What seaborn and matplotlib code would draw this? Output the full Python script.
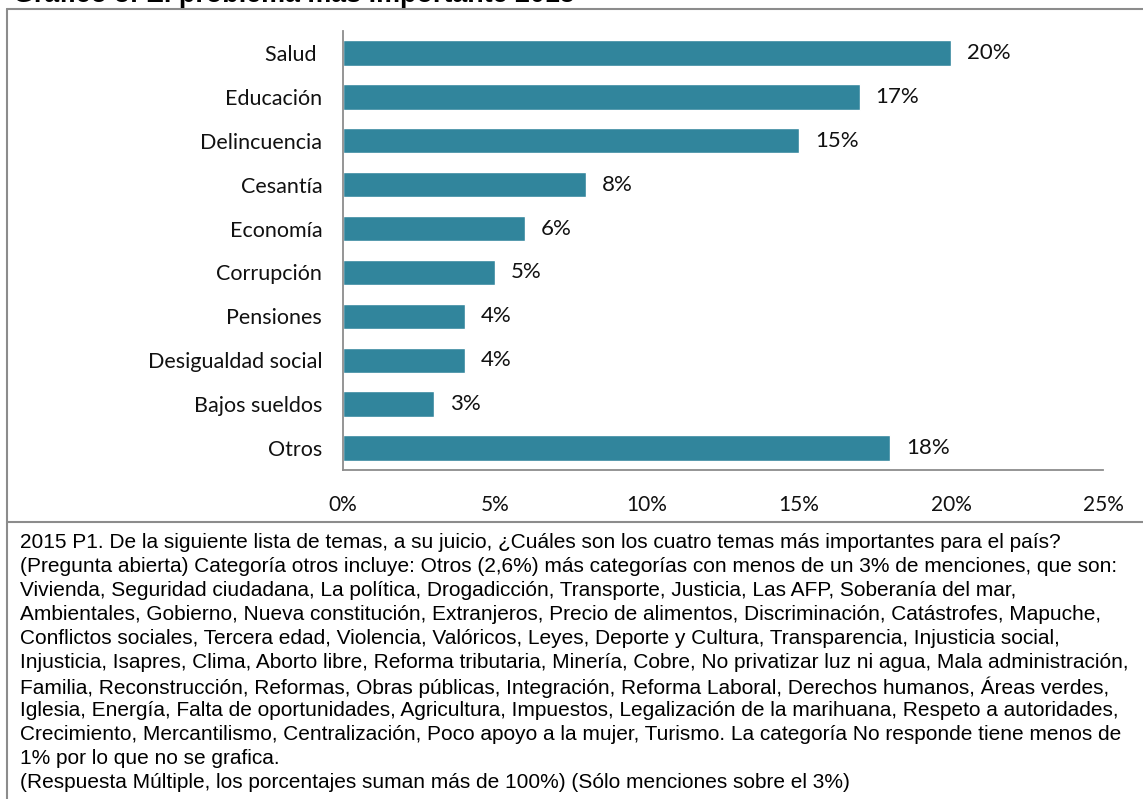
import matplotlib
matplotlib.use("Agg")
import matplotlib.pyplot as plt
from matplotlib.lines import Line2D
import seaborn as sns
import pandas as pd

categories = ["Salud ", "Educación", "Delincuencia", "Cesantía", "Economía",
              "Corrupción", "Pensiones", "Desigualdad social", "Bajos sueldos", "Otros"]
values = [20, 17, 15, 8, 6, 5, 4, 4, 3, 18]
xticks = [0, 5, 10, 15, 20, 25]
xtick_labels = ["0%", "5%", "10%", "15%", "20%", "25%"]
title = "Gráfico 3: El problema más importante 2015"
note_lines = [
    "2015 P1. De la siguiente lista de temas, a su juicio, ¿Cuáles son los cuatro temas más importantes para el país?",
    "(Pregunta abierta) Categoría otros incluye: Otros (2,6%) más categorías con menos de un 3% de menciones, que son:",
    "Vivienda, Seguridad ciudadana, La política, Drogadicción, Transporte, Justicia, Las AFP, Soberanía del mar,",
    "Ambientales, Gobierno, Nueva constitución, Extranjeros, Precio de alimentos, Discriminación, Catástrofes, Mapuche,",
    "Conflictos sociales, Tercera edad, Violencia, Valóricos, Leyes, Deporte y Cultura, Transparencia, Injusticia social,",
    "Injusticia, Isapres, Clima, Aborto libre, Reforma tributaria, Minería, Cobre, No privatizar luz ni agua, Mala administración,",
    "Familia, Reconstrucción, Reformas, Obras públicas, Integración, Reforma Laboral, Derechos humanos, Áreas verdes,",
    "Iglesia, Energía, Falta de oportunidades, Agricultura, Impuestos, Legalización de la marihuana, Respeto a autoridades,",
    "Crecimiento, Mercantilismo, Centralización, Poco apoyo a la mujer, Turismo. La categoría No responde tiene menos de",
    "1% por lo que no se grafica.",
    "(Respuesta Múltiple, los porcentajes suman más de 100%) (Sólo menciones sobre el 3%)",
]

sns.set_theme(style="white")
plt.rcParams["font.family"] = ["Lato", "DejaVu Sans"]

W, H = 1143, 799
fig = plt.figure(figsize=(W / 100, H / 100), dpi=100)
fig.patch.set_facecolor("white")

def fx(px):
    return px / W

def fy(py):
    return 1 - py / H

ax = fig.add_axes([fx(343), fy(470), fx(1103) - fx(343), fy(31) - fy(470)])
df = pd.DataFrame({"cat": categories, "val": values})
sns.barplot(data=df, x="val", y="cat", orient="h", color="#31859C",
            width=0.58, ax=ax, saturation=1)

ax.set_xlim(0, 25)
ax.set_ylim(len(categories) - 0.5, -0.5)
ax.set_xticks(xticks)
ax.set_xticklabels(xtick_labels, fontsize=15, color="#111111")
ax.tick_params(axis="x", length=0, pad=18)
ax.tick_params(axis="y", length=0, pad=15, labelsize=15.5, labelcolor="#111111")
ax.set_xlabel("")
ax.set_ylabel("")
for s in ["top", "right"]:
    ax.spines[s].set_visible(False)
for s in ["left", "bottom"]:
    ax.spines[s].set_color("#8c8c8c")
    ax.spines[s].set_linewidth(1.3)

for i, v in enumerate(values):
    ax.text(v + 0.52, i, f"{v}%", va="center", ha="left", fontsize=16, color="#111111")

# frame lines
lc = "#8c8c8c"
lw = 1.5
fig.add_artist(Line2D([fx(7), 1], [fy(9), fy(9)], color=lc, lw=lw))
fig.add_artist(Line2D([fx(7), fx(7)], [fy(9), 0], color=lc, lw=lw))
fig.add_artist(Line2D([fx(7), 1], [fy(522), fy(522)], color=lc, lw=lw))

# title (mostly above the visible area, as in the reference)
fig.text(fx(13), fy(1.5), title, ha="left", va="baseline", fontsize=19.4,
         fontweight="bold", family=["Liberation Sans", "DejaVu Sans"], color="black")

# note
y0 = 543
step = 24
for k, line in enumerate(note_lines):
    fig.text(fx(20), fy(y0 + k * step), line, ha="left", va="center",
             fontsize=15.0, family=["Liberation Sans", "DejaVu Sans"], color="black")

fig.savefig("out.png", dpi=100, facecolor="white")
